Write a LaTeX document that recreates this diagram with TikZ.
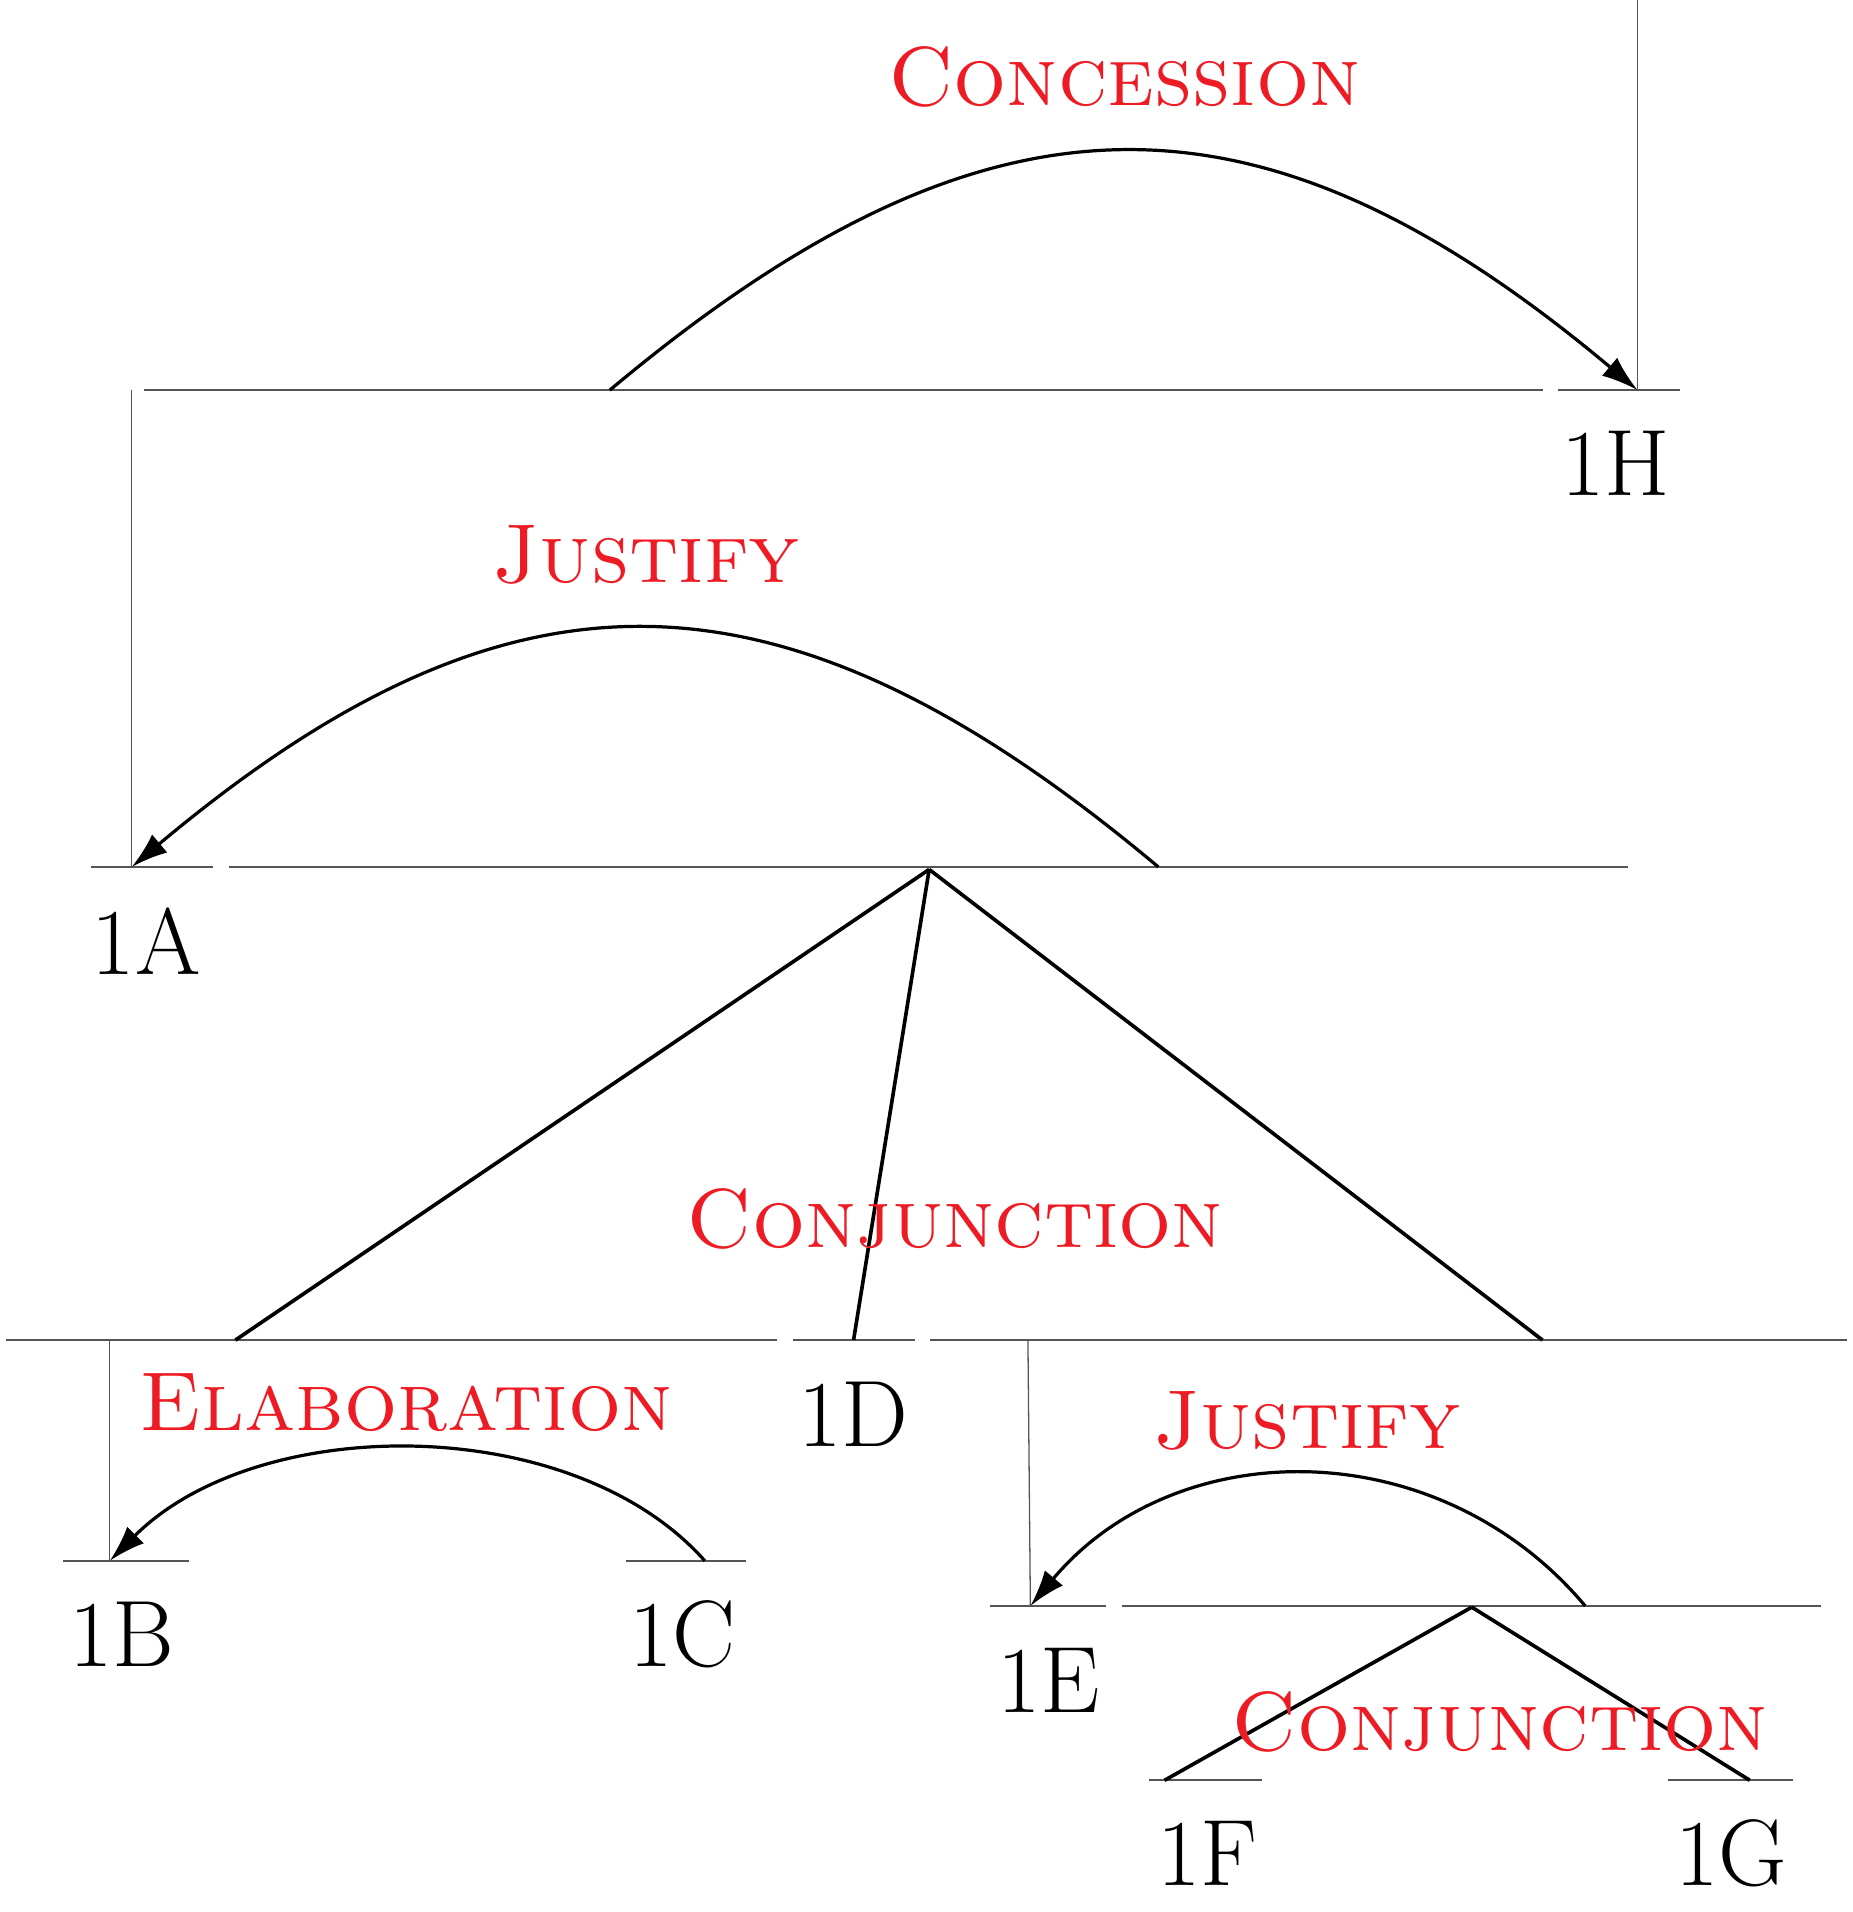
\documentclass[tikz,border=0pt]{standalone}
\usepackage{tikz}
\usetikzlibrary{arrows.meta}
\definecolor{rstred}{RGB}{237,28,36}
\definecolor{spangray}{RGB}{85,85,85}

\begin{document}
\begin{tikzpicture}[x=.01cm,y=-.01cm,
    spanline/.style={spangray,line width=.45pt},
    stem/.style={spangray,line width=.3pt},
    branch/.style={black,line width=.85pt},
    relarc/.style={black,line width=.75pt,-{Latex[length=8.5pt,width=5.5pt]}},
    unit/.style={inner sep=0pt,font=\fontsize{22}{26}\selectfont},
    relname/.style={inner sep=0pt,text=rstred,font=\fontsize{19.5}{23}\selectfont\scshape}]
  \useasboundingbox (0,0) rectangle (1519,1568);
  % span lines
  \foreach \y/\a/\b in {320/118/1265, 320/1278/1378,
      711/75/175, 711/188/1335,
      1099/5/637, 1099/650/750, 1099/763/1515,
      1280/52/155, 1280/513/612,
      1317/812/907, 1317/920/1493,
      1460/942/1035, 1460/1368/1470}
    \draw[spanline] (\a,\y) -- (\b,\y);
  % attach points
  \coordinate (hTop) at (1343,0);
  \coordinate (h) at (1343,320);
  \coordinate (aTop) at (108,320);
  \coordinate (a) at (108,711);
  \coordinate (concFrom) at (500,320);
  \coordinate (justFrom) at (950,711);
  \coordinate (conjTop) at (762,713);
  \coordinate (bcSpan) at (193,1099);
  \coordinate (d) at (700,1099);
  \coordinate (egSpan) at (1265,1099);
  \coordinate (bTop) at (90,1099);
  \coordinate (b) at (90,1280);
  \coordinate (c) at (578,1280);
  \coordinate (eTop) at (843,1099);
  \coordinate (e) at (845,1317);
  \coordinate (justFromFG) at (1300,1317);
  \coordinate (conjFG) at (1207,1318);
  \coordinate (f) at (955,1460);
  \coordinate (g) at (1435,1460);
  % nuclei stems
  \draw[stem] (hTop) -- (h);
  \draw[stem] (aTop) -- (a);
  \draw[stem] (bTop) -- (b);
  \draw[stem] (eTop) -- (e);
  % multinuclear branches
  \draw[branch] (conjTop) -- (bcSpan);
  \draw[branch] (conjTop) -- (d);
  \draw[branch] (conjTop) -- (egSpan);
  \draw[branch] (conjFG) -- (f);
  \draw[branch] (conjFG) -- (g);
  % relation arcs
  \draw[relarc] (concFrom) .. controls (810,60) and (1033,60) .. (h);
  \draw[relarc] (justFrom) .. controls (640,451) and (418,451) .. (a);
  \draw[relarc] (c) .. controls (470,1158) and (212,1158) .. (b);
  \draw[relarc] (justFromFG) .. controls (1180,1174) and (965,1174) .. (e);
  % relation names
  \node[relname] (concession) at (922,63) {Concession};
  \node[relname] (justifyA) at (530,455) {Justify};
  \node[relname] (conjunctionA) at (783,1000) {Conjunction};
  \node[relname] (elaboration) at (333,1150) {Elaboration};
  \node[relname] (justifyE) at (1072,1165) {Justify};
  \node[relname] (conjunctionF) at (1230,1412) {Conjunction};
  % units
  \node[unit] (u1H) at (1325,380) {1H};
  \node[unit] (u1A) at (120,772) {1A};
  \node[unit] (u1D) at (700,1160) {1D};
  \node[unit] (u1B) at (100,1340) {1B};
  \node[unit] (u1C) at (560,1340) {1C};
  \node[unit] (u1E) at (860,1378) {1E};
  \node[unit] (u1F) at (990,1520) {1F};
  \node[unit] (u1G) at (1420,1520) {1G};
\end{tikzpicture}
\end{document}
